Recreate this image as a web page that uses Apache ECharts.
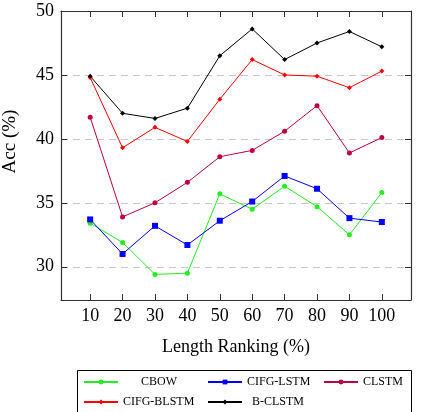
<!DOCTYPE html>
<html>
<head>
<meta charset="utf-8">
<script src="https://cdn.jsdelivr.net/npm/echarts@6/dist/echarts.min.js"></script>
<style>
html, body { margin: 0; padding: 0; background: #fff; }
#chart { width: 422px; height: 412px; }
</style>
</head>
<body>
<div id="chart"></div>
<script>
// x values (length ranking %)
const lengthRanking = [10, 20, 30, 40, 50, 60, 70, 80, 90, 100]
// accuracy per model
const cbow = [33.4, 31.9, 29.4, 29.5, 35.7, 34.5, 36.3, 34.7, 32.5, 35.8]
const cifgLstm = [33.7, 31.0, 33.2, 31.7, 33.6, 35.1, 37.1, 36.1, 33.8, 33.5]
const clstm = [41.7, 33.9, 35.0, 36.6, 38.6, 39.1, 40.6, 42.6, 38.9, 40.1]
const cifgBlstm = [44.8, 39.3, 40.9, 39.8, 43.1, 46.2, 45.0, 44.9, 44.0, 45.3]
const bClstm = [44.9, 42.0, 41.6, 42.4, 46.5, 48.6, 46.2, 47.5, 48.4, 47.2]
const yTicks = [30, 35, 40, 45, 50]

const font = "'Liberation Serif', 'DejaVu Serif', serif"
const axisColor = '#333'

const chart = echarts.init(document.getElementById('chart'))

const makeSeries = (name, values, color, symbol, size) => ({
  name,
  type: 'line',
  xAxisIndex: 0,
  yAxisIndex: 0,
  data: lengthRanking.map((x, i) => [x, values[i]]),
  symbol,
  symbolSize: size,
  lineStyle: { width: 1, color },
  itemStyle: { color },
  emphasis: { disabled: true },
  z: 3
})

const makeLegend = (name, left, top, pad) => ({
  data: [name],
  left,
  top,
  padding: 0,
  itemWidth: 34,
  itemHeight: 6,
  selectedMode: false,
  textStyle: { fontFamily: font, fontSize: 12, color: '#000', padding: [0, 0, 0, pad] }
})

const option = {
  animation: false,
  grid: { left: 61, right: 11, top: 11, bottom: 112, outerBoundsMode: 'none' },
  xAxis: [
    {
      type: 'value',
      min: 1,
      max: 109,
      position: 'bottom',
      name: 'Length Ranking (%)',
      nameLocation: 'middle',
      nameGap: 38,
      nameTextStyle: { fontFamily: font, fontSize: 18, color: '#000' },
      axisLine: { show: true, lineStyle: { color: axisColor, width: 1.2 } },
      axisTick: { show: true, inside: true, length: 6, customValues: lengthRanking, lineStyle: { color: axisColor } },
      axisLabel: { customValues: lengthRanking, fontFamily: font, fontSize: 18, color: '#000', margin: 7 },
      splitLine: { show: false }
    },
    {
      type: 'value',
      min: 1,
      max: 109,
      position: 'top',
      axisLine: { show: true, lineStyle: { color: axisColor, width: 1.2 } },
      axisTick: { show: true, inside: true, length: 6, customValues: lengthRanking, lineStyle: { color: axisColor } },
      axisLabel: { show: false },
      splitLine: { show: false }
    }
  ],
  yAxis: [
    {
      type: 'value',
      min: 27.4,
      max: 50,
      position: 'left',
      name: 'Acc (%)',
      nameLocation: 'middle',
      nameGap: 41,
      nameTextStyle: { fontFamily: font, fontSize: 19, color: '#000', padding: [0, 0, 0, 28] },
      axisLine: { show: true, lineStyle: { color: axisColor, width: 1.2 } },
      axisTick: { show: true, inside: true, length: 6, customValues: yTicks, lineStyle: { color: axisColor } },
      axisLabel: { customValues: yTicks, fontFamily: font, fontSize: 18, color: '#000', margin: 7 },
      splitLine: { show: true, lineStyle: { color: '#c8c8c8', type: [7, 5], width: 1.2 } }
    },
    {
      type: 'value',
      min: 27.4,
      max: 50,
      position: 'right',
      axisLine: { show: true, lineStyle: { color: axisColor, width: 1.2 } },
      axisTick: { show: true, inside: true, length: 6, customValues: yTicks, lineStyle: { color: axisColor } },
      axisLabel: { show: false },
      splitLine: { show: false }
    }
  ],
  legend: [
    makeLegend('CBOW', 83, 376, 18),
    makeLegend('CIFG-LSTM', 207, 376, 0),
    makeLegend('CLSTM', 323, 376, 0),
    makeLegend('CIFG-BLSTM', 83, 396, 0),
    makeLegend('B-CLSTM', 207, 396, 5)
  ],
  graphic: [
    {
      type: 'rect',
      shape: { x: 77.5, y: 370.5, width: 334, height: 60 },
      style: { fill: 'none', stroke: '#000', lineWidth: 1 },
      silent: true
    }
  ],
  series: [
    makeSeries('CBOW', cbow, '#22ee22', 'circle', 5),
    makeSeries('CIFG-LSTM', cifgLstm, '#0000ff', 'rect', 6),
    makeSeries('CLSTM', clstm, '#bf0040', 'circle', 5),
    makeSeries('CIFG-BLSTM', cifgBlstm, '#ff0000', 'diamond', 5),
    makeSeries('B-CLSTM', bClstm, '#000000', 'diamond', 5)
  ]
}

chart.setOption(option)
</script>
</body>
</html>
